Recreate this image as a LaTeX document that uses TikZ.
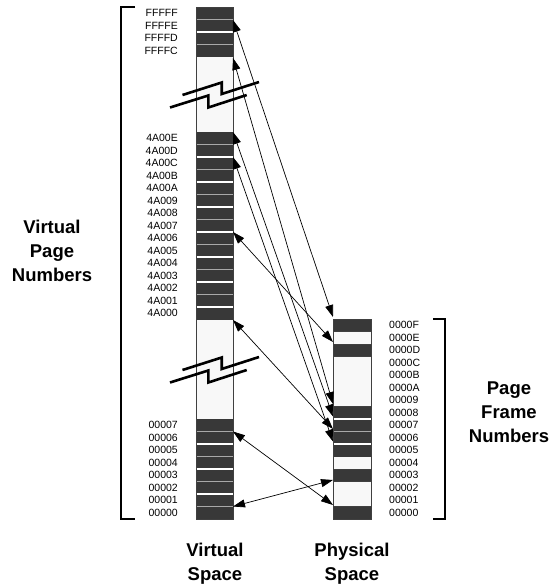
\documentclass[tikz,border=0pt]{standalone}
\usepackage{fontspec}
\setmainfont{Liberation Sans}
\usetikzlibrary{arrows.meta}
\definecolor{darkpg}{HTML}{383838}
\definecolor{lightpg}{HTML}{F8F8F8}
\definecolor{sepgray}{HTML}{A8A8A8}
\begin{document}
\begin{tikzpicture}[x=1pt,y=-1pt,
  pglabel/.style={font=\fontsize{10.5}{12}\selectfont, inner sep=0pt},
  biglabel/.style={font=\fontsize{18.5}{24}\selectfont\bfseries, align=center, inner sep=0pt},
  darkrow/.style={fill=darkpg, draw=none},
  colframe/.style={fill=lightpg, draw=black!75, line width=0.8pt},
  sepg/.style={draw=sepgray, line width=1.2pt},
  sepw/.style={draw=white, line width=1.2pt},
  maparrow/.style={{Triangle[length=12pt,width=8pt]}-{Triangle[length=12pt,width=8pt]}, line width=0.7pt},
  zig/.style={line width=2.6pt},
  bracketline/.style={line width=2pt}
]
\useasboundingbox (0,0) rectangle (549,587);

% ---------------- virtual column ----------------
\path[colframe] (196,7) rectangle (233,519);
\path[darkrow] (196,7) rectangle (233,57);
\path[darkrow] (196,132) rectangle (233,319.5);
\path[darkrow] (196,419) rectangle (233,519);
\draw[black!75, line width=0.8pt] (196,7) rectangle (233,519);
\foreach \i in {1,2,3} {
  \pgfmathsetmacro{\yy}{7+12.5*\i}
  \pgfmathtruncatemacro{\odd}{mod(\i,2)}
  \ifnum\odd=1 \draw[sepg] (196.5,\yy) -- (232.5,\yy); \else \draw[sepw] (196.5,\yy) -- (232.5,\yy); \fi
}
\foreach \i in {1,...,14} {
  \pgfmathsetmacro{\yy}{132+12.5*\i}
  \pgfmathtruncatemacro{\odd}{mod(\i,2)}
  \ifnum\odd=1 \draw[sepg] (196.5,\yy) -- (232.5,\yy); \else \draw[sepw] (196.5,\yy) -- (232.5,\yy); \fi
}
\foreach \i in {1,...,7} {
  \pgfmathsetmacro{\yy}{419+12.5*\i}
  \pgfmathtruncatemacro{\odd}{mod(\i,2)}
  \ifnum\odd=1 \draw[sepg] (196.5,\yy) -- (232.5,\yy); \else \draw[sepw] (196.5,\yy) -- (232.5,\yy); \fi
}

% virtual labels
\foreach \t [count=\i from 0] in {FFFFF,FFFFE,FFFFD,FFFFC} {
  \node[pglabel, anchor=east] (vt\i) at (178,{7+6.25+12.5*\i}) {\t};
}
\foreach \t [count=\i from 0] in {4A00E,4A00D,4A00C,4A00B,4A00A,4A009,4A008,4A007,4A006,4A005,4A004,4A003,4A002,4A001,4A000} {
  \node[pglabel, anchor=east] (vm\i) at (178,{132+6.25+12.5*\i}) {\t};
}
\foreach \t [count=\i from 0] in {00007,00006,00005,00004,00003,00002,00001,00000} {
  \node[pglabel, anchor=east] (vb\i) at (178,{419+6.25+12.5*\i}) {\t};
}

% ---------------- physical column ----------------
\path[colframe] (333,319) rectangle (371,519);
\foreach \k in {0,2,7,8,9,10,12,15} {
  \path[darkrow] (333,{319+12.5*\k}) rectangle (371,{319+12.5*(\k+1)});
}
\draw[black!75, line width=0.8pt] (333,319) rectangle (371,519);
\foreach \k in {1,2,3,7,12,13,15} {
  \draw[black!75, line width=0.6pt] (333,{319+12.5*\k}) -- (371,{319+12.5*\k});
}
\draw[sepw] (333.5,419) -- (370.5,419);
\draw[sepg] (333.5,431.5) -- (370.5,431.5);
\draw[sepw] (333.5,444) -- (370.5,444);

\foreach \t [count=\i from 0] in {0000F,0000E,0000D,0000C,0000B,0000A,00009,00008,00007,00006,00005,00004,00003,00002,00001,00000} {
  \node[pglabel, anchor=west] (p\i) at (389,{319+6.25+12.5*\i}) {\t};
}

% ---------------- break marks ----------------
\draw[zig] (182.5,95) -- (221.7,82.5) -- (221.7,94) -- (259,82);
\draw[zig] (170,107.5) -- (208.3,95.5) -- (208.3,107.5) -- (246.7,95);
\draw[zig] (182.5,370) -- (221.7,357.5) -- (221.7,369) -- (259,357);
\draw[zig] (170,382.5) -- (208.3,370.5) -- (208.3,382.5) -- (246.7,370);

% ---------------- brackets ----------------
\draw[bracketline] (135,7) -- (121,7) -- (121,519) -- (135,519);
\draw[bracketline] (433,319) -- (445,319) -- (445,519) -- (433,519);

% ---------------- big labels ----------------
\node[biglabel] (vpn) at (52,251) {Virtual\\Page\\Numbers};
\node[biglabel] (pfn) at (509,412.5) {Page\\Frame\\Numbers};
\node[biglabel] (vsp) at (215,563.5) {Virtual\\Space};
\node[biglabel] (psp) at (352,563.5) {Physical\\Space};

% ---------------- mapping arrows ----------------
\coordinate (va) at (233,20);
\coordinate (vb) at (233,58);
\coordinate (vc) at (233,132);
\coordinate (vd) at (233,157);
\coordinate (ve) at (233,232);
\coordinate (vf) at (233,320);
\coordinate (vg) at (233,431.5);
\coordinate (vh) at (233,506.5);
\coordinate (pa) at (333,317);
\coordinate (pb) at (333,404);
\coordinate (pc) at (333,416.5);
\coordinate (pd) at (333,441.5);
\coordinate (pe) at (333,342);
\coordinate (pf) at (333,429);
\coordinate (pg) at (333,505);
\coordinate (ph) at (333,480);
\foreach \s/\e in {va/pa,vb/pb,vc/pc,vd/pd,ve/pe,vf/pf,vg/pg,vh/ph} {
  \draw[maparrow] (\s) -- (\e);
}
\end{tikzpicture}
\end{document}
